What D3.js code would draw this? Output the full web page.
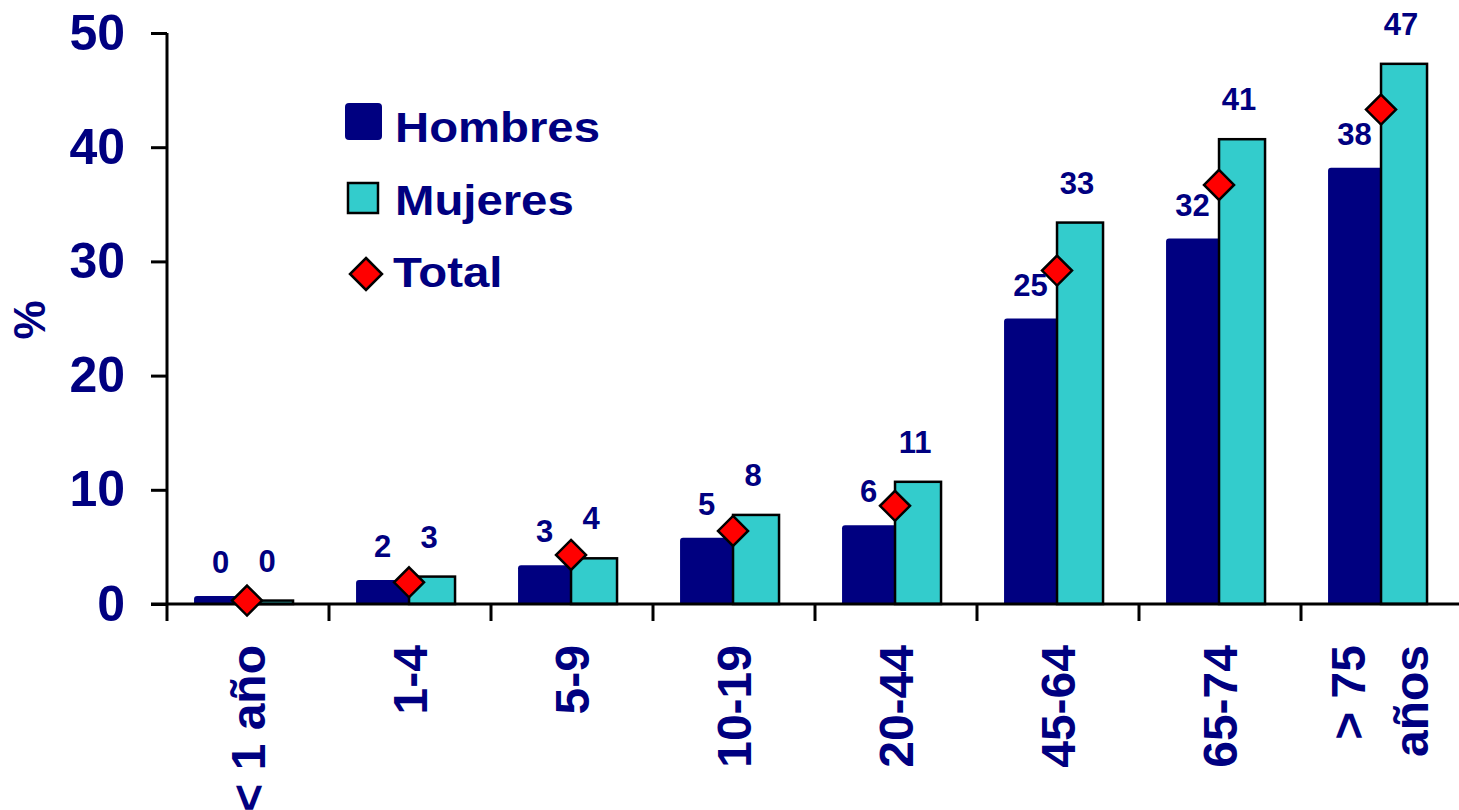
<!DOCTYPE html>
<html>
<head>
<meta charset="utf-8">
<script src="https://cdn.jsdelivr.net/npm/d3@7/dist/d3.min.js"></script>
<style>
  html, body { margin: 0; padding: 0; background: #fff; }
  svg { display: block; font-family: "Liberation Sans", Arial, sans-serif; font-weight: bold; }
</style>
</head>
<body>
<svg id="chart" width="1459" height="810"></svg>
<script>
// ---- Data ----
const categories = ["< 1 año", "1-4", "5-9", "10-19", "20-44", "45-64", "65-74", "> 75 años"];
const categoryLines = [["< 1 año"], ["1-4"], ["5-9"], ["10-19"], ["20-44"], ["45-64"], ["65-74"], ["> 75", "años"]];
const hombres = [0.7, 2.1, 3.4, 5.8, 6.9, 25.0, 32.0, 38.2];
const mujeres = [0.3, 2.4, 4.0, 7.8, 10.7, 33.4, 40.7, 47.3];
const total = [0.3, 1.9, 4.3, 6.4, 8.6, 29.2, 36.7, 43.3];
const hombresLabels = ["0", "2", "3", "5", "6", "25", "32", "38"];
const mujeresLabels = ["0", "3", "4", "8", "11", "33", "41", "47"];
const yTicks = [0, 10, 20, 30, 40, 50];
const seriesNames = ["Hombres", "Mujeres", "Total"];

// ---- Styles ----
const NAVY = "#000080", CYAN = "#33CCCC", RED = "#FF0000", TXT = "#000080";

const svg = d3.select("#chart");
const x = d3.scaleBand().domain(categories).range([167, 1463]).padding(0);
const y = d3.scaleLinear().domain([0, 50]).range([604, 33]);
const bw = x.bandwidth();
const hX = c => x(c) + bw * 0.167, hW = bw * 0.327;
const mX = c => x(c) + bw * 0.494, mW = bw * 0.284;
const dX = c => x(c) + bw * 0.494;

// Hombres bars
svg.append("g").selectAll("path").data(categories).join("path")
  .attr("fill", NAVY)
  .attr("d", (c, i) => {
    const x0 = hX(c), x1 = x0 + hW, y0 = y(0), y1 = y(hombres[i]);
    const r = Math.min(3, (y0 - y1) / 2);
    return `M${x0},${y0} L${x0},${y1 + r} Q${x0},${y1} ${x0 + r},${y1} L${x1},${y1} L${x1},${y0} Z`;
  });

// Mujeres bars
svg.append("g").selectAll("rect").data(categories).join("rect")
  .attr("x", c => mX(c)).attr("width", mW)
  .attr("y", (c, i) => y(mujeres[i])).attr("height", (c, i) => y(0) - y(mujeres[i]))
  .attr("fill", CYAN).attr("stroke", "#000").attr("stroke-width", 2.5);

// Y axis
const yAxis = d3.axisLeft(y).tickValues(yTicks).tickSize(16).tickPadding(26).tickFormat(d3.format("d"));
const gy = svg.append("g").attr("transform", "translate(167,0)").call(yAxis);
gy.select(".domain").attr("stroke", "#000").attr("stroke-width", 3).attr("d", `M0,${y(50)}V${y(0)}`);
gy.selectAll(".tick line").attr("stroke", "#000").attr("stroke-width", 3);
gy.selectAll(".tick text").attr("fill", TXT).attr("font-size", 50).attr("font-weight", "bold")
  .attr("font-family", "'Liberation Sans', Arial, sans-serif");

// X axis
const gx = svg.append("g");
gx.append("line").attr("x1", 151).attr("x2", 1470).attr("y1", y(0)).attr("y2", y(0))
  .attr("stroke", "#000").attr("stroke-width", 3);
const boundaries = categories.map(c => x(c)).concat([x(categories[categories.length - 1]) + bw]);
gx.selectAll("line.t").data(boundaries).join("line").attr("class", "t")
  .attr("x1", d => d).attr("x2", d => d).attr("y1", y(0)).attr("y2", y(0) + 17)
  .attr("stroke", "#000").attr("stroke-width", 3);
const lineGap = 63;
const xl = gx.selectAll("text.xl").data(categories).join("text").attr("class", "xl")
  .attr("transform", (c, i) => {
    const n = categoryLines[i].length;
    return `translate(${x(c) + bw / 2 + 17 - (n - 1) * 34},645) rotate(-90)`;
  })
  .attr("text-anchor", "end").attr("fill", TXT).attr("font-size", 48);
xl.each(function(c, i) {
  const t = d3.select(this);
  categoryLines[i].forEach((ln, j) => {
    t.append("tspan").attr("x", 0).attr("dy", j === 0 ? 0 : lineGap).text(ln);
  });
});

// Total diamonds
const dsz = 15;
svg.append("g").selectAll("path").data(categories).join("path")
  .attr("transform", (c, i) => `translate(${dX(c)},${y(total[i])})`)
  .attr("d", `M0,${-dsz} L${dsz},0 L0,${dsz} L${-dsz},0 Z`)
  .attr("fill", RED).attr("stroke", "#000").attr("stroke-width", 2.5).attr("stroke-linejoin", "miter");

// Value labels
svg.append("g").selectAll("text").data(categories).join("text")
  .attr("x", c => hX(c) + hW / 2).attr("y", (c, i) => y(hombres[i]) - 23)
  .attr("text-anchor", "middle").attr("fill", TXT).attr("font-size", 31)
  .text((c, i) => hombresLabels[i]);
svg.append("g").selectAll("text").data(categories).join("text")
  .attr("x", c => mX(c) + mW / 2 - 3).attr("y", (c, i) => y(mujeres[i]) - 29)
  .attr("text-anchor", "middle").attr("fill", TXT).attr("font-size", 31)
  .text((c, i) => mujeresLabels[i]);

// Y title
svg.append("text").attr("transform", "translate(45,320) rotate(-90)")
  .attr("text-anchor", "middle").attr("fill", TXT).attr("font-size", 44).text("%");

// Legend
const lg = svg.append("g");
lg.append("rect").attr("x", 345).attr("y", 103).attr("width", 37).attr("height", 37).attr("rx", 4).attr("fill", NAVY);
lg.append("rect").attr("x", 348).attr("y", 183).attr("width", 30).attr("height", 30)
  .attr("fill", CYAN).attr("stroke", "#000").attr("stroke-width", 2.5);
lg.append("path").attr("transform", "translate(366,274)")
  .attr("d", "M0,-16 L16,0 L0,16 L-16,0 Z").attr("fill", RED).attr("stroke", "#000").attr("stroke-width", 2.5);
const legendPos = [[395, 142], [395, 215], [393, 287]];
lg.selectAll("text").data(seriesNames).join("text")
  .attr("transform", (d, i) => `translate(${legendPos[i][0]},${legendPos[i][1]}) scale(1.1,1)`)
  .attr("fill", TXT).attr("font-size", 43).text(d => d);
</script>
</body>
</html>
